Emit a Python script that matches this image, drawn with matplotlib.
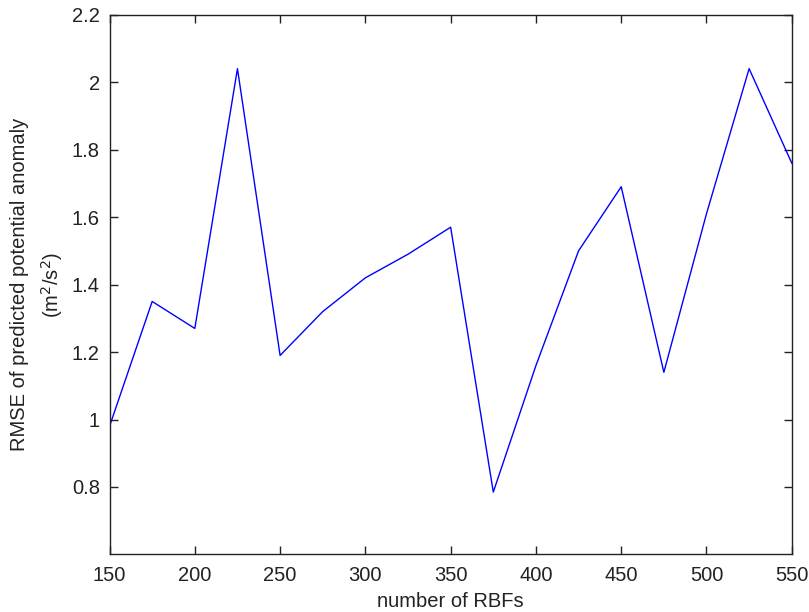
import numpy as np
import matplotlib.pyplot as plt

plt.rcParams['font.family'] = ['Liberation Sans', 'DejaVu Sans']

n_rbfs = [150, 175, 200, 225, 250, 275, 300, 325, 350, 375, 400, 425, 450, 475, 500, 525, 550]
rmse = [0.98, 1.35, 1.27, 2.04, 1.19, 1.32, 1.42, 1.49, 1.57, 0.785, 1.16, 1.50, 1.69, 1.14, 1.61, 2.04, 1.76]

fig = plt.figure(figsize=(8.09, 6.12), dpi=100)
ax = fig.add_axes([0.1354, 0.094, 0.9787 - 0.1354, 0.976 - 0.094])

ax.plot(n_rbfs, rmse, color='#0000ff', linewidth=1.0)

ax.set_xlim(150, 550)
ax.set_ylim(0.6, 2.2)
ax.set_xticks(np.arange(150, 551, 50))
ax.set_yticks([0.8, 1.0, 1.2, 1.4, 1.6, 1.8, 2.0, 2.2])
ax.set_yticklabels(['0.8', '1', '1.2', '1.4', '1.6', '1.8', '2', '2.2'])
ax.tick_params(direction='in', length=6, width=1, top=True, right=True,
               labelsize=14.5, colors='#222222')
ax.tick_params(axis='y', pad=7)
ax.tick_params(axis='x', pad=8)
for s in ax.spines.values():
    s.set_linewidth(1)
    s.set_color('#222222')

ax.set_xlabel('number of RBFs', fontsize=14.5, labelpad=5, color='#222222')
ax.set_ylabel('RMSE of predicted potential anomaly\n(m$^2$/s$^2$)', fontsize=14.5,
              linespacing=1.5, labelpad=5, color='#222222')

fig.savefig('out.png', dpi=100)
